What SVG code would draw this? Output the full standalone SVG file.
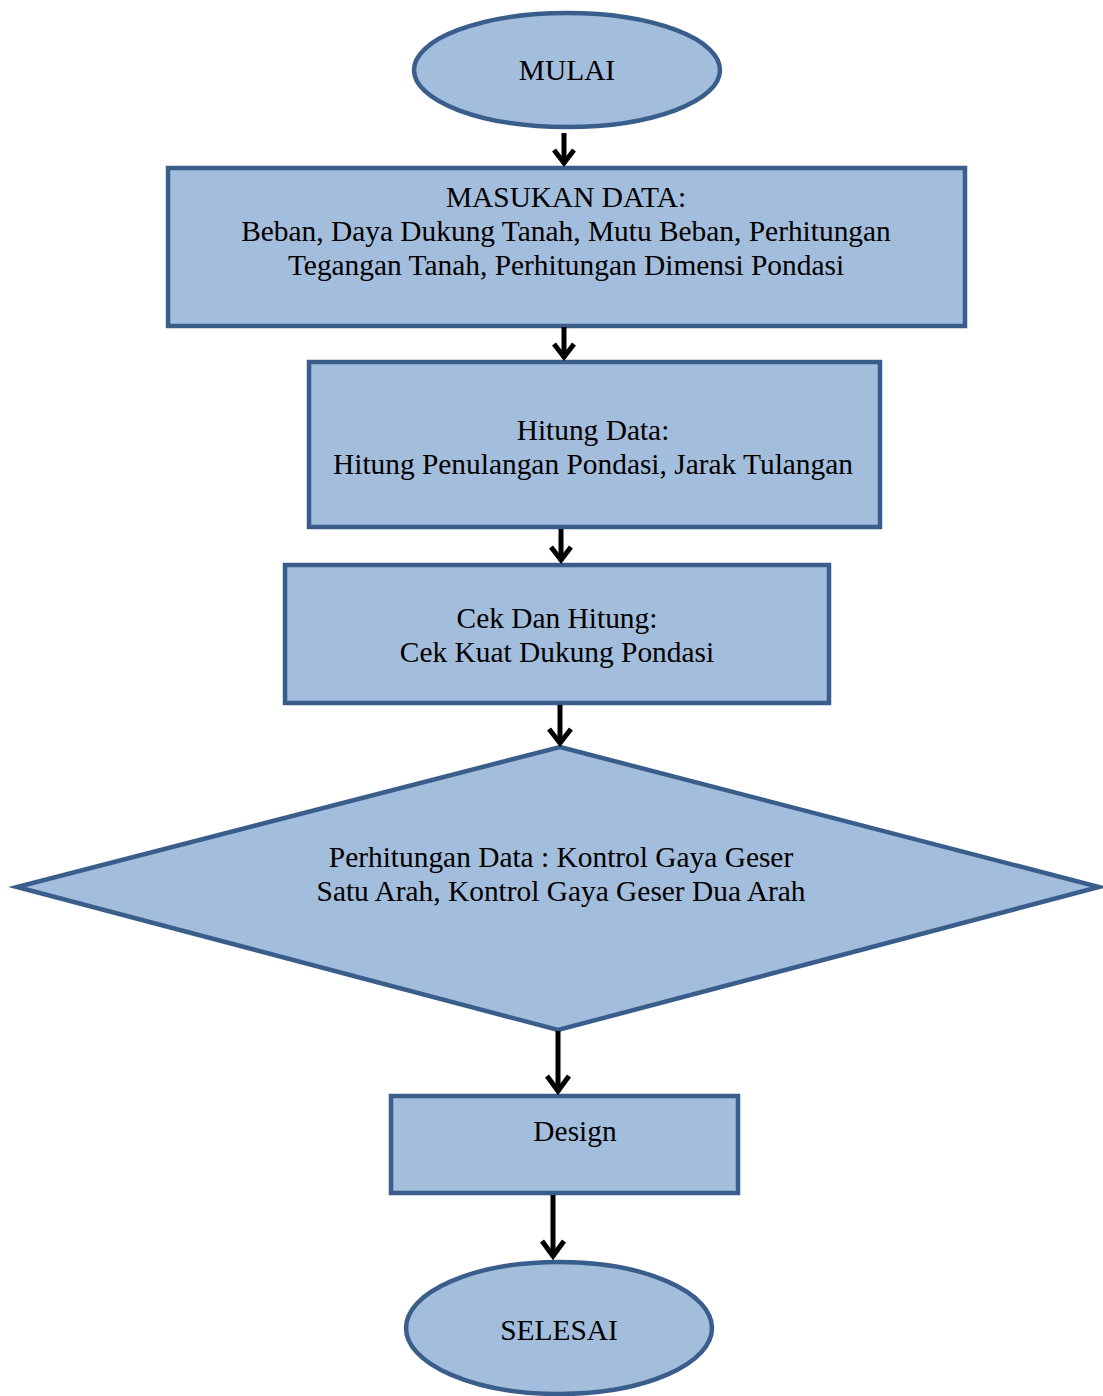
<svg xmlns="http://www.w3.org/2000/svg" width="1103" height="1396" viewBox="0 0 1103 1396">
<style>
.shape{fill:#A3BDDC;stroke:#3A5E8C;stroke-width:4.5}
.t{font-family:"Liberation Serif","Times New Roman",serif;font-size:29.4px;fill:#000;text-anchor:middle}
.c{stroke:#000;stroke-width:5;fill:none}
.h{stroke:#000;stroke-width:5;fill:none;stroke-linejoin:miter}
</style>
<rect width="1103" height="1396" fill="#fff"/>
<g id="mulai"><ellipse class="shape" cx="567" cy="70" rx="153" ry="57"/><text class="t" x="567" y="80">MULAI</text></g>
<g id="masukan"><rect class="shape" x="168" y="168" width="797" height="158"/>
<text class="t" x="566" y="207">MASUKAN DATA:</text>
<text class="t" x="566" y="241">Beban, Daya Dukung Tanah, Mutu Beban, Perhitungan</text>
<text class="t" x="566" y="275">Tegangan Tanah, Perhitungan Dimensi Pondasi</text></g>
<g id="hitung"><rect class="shape" x="309" y="362" width="571" height="165"/>
<text class="t" x="593" y="440">Hitung Data:</text>
<text class="t" x="593" y="474">Hitung Penulangan Pondasi, Jarak Tulangan</text></g>
<g id="cek"><rect class="shape" x="285" y="565" width="544" height="138"/>
<text class="t" x="557" y="628">Cek Dan Hitung:</text>
<text class="t" x="557" y="662">Cek Kuat Dukung Pondasi</text></g>
<g id="perhitungan"><polygon class="shape" points="560,747 1099,887 558,1030 17,887"/>
<text class="t" x="561" y="867">Perhitungan Data : Kontrol Gaya Geser</text>
<text class="t" x="561" y="901">Satu Arah, Kontrol Gaya Geser Dua Arah</text></g>
<g id="design"><rect class="shape" x="391" y="1096" width="347" height="97"/>
<text class="t" x="575" y="1141">Design</text></g>
<g id="selesai"><ellipse class="shape" cx="559" cy="1328" rx="153" ry="66"/><text class="t" x="559" y="1340">SELESAI</text></g>
<g id="connectors">
<path class="c" d="M564,133 V164"/><path class="h" d="M554,150 L564,163 L574,150"/>
<path class="c" d="M564,327 V358"/><path class="h" d="M554,344 L564,357 L574,344"/>
<path class="c" d="M561,529 V561"/><path class="h" d="M551,547 L561,560 L571,547"/>
<path class="c" d="M560,705 V744"/><path class="h" d="M549,729 L560,743 L571,729"/>
<path class="c" d="M558,1031 V1092"/><path class="h" d="M547,1076 L558,1091 L569,1076"/>
<path class="c" d="M553,1195 V1257"/><path class="h" d="M542,1241 L553,1256 L564,1241"/>
</g>
</svg>
